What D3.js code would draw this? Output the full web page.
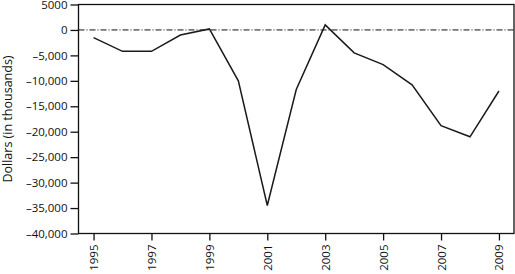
<!DOCTYPE html>
<html><head><meta charset="utf-8">
<script src="https://cdn.jsdelivr.net/npm/d3@7"></script>
<style>body{margin:0;background:#fff}svg{display:block}text{font-family:"Open Sans",sans-serif;fill:#111}</style>
</head><body>
<svg id="c" width="515" height="274"></svg>
<script>
const years = [1995,1996,1997,1998,1999,2000,2001,2002,2003,2004,2005,2006,2007,2008,2009];
const values = [-1500,-4200,-4200,-1000,200,-10000,-34500,-11700,1000,-4500,-6800,-10800,-18800,-21000,-12000];
const yTicks = [5000,0,-5000,-10000,-15000,-20000,-25000,-30000,-35000,-40000];
const xTicks = [1995,1997,1999,2001,2003,2005,2007,2009];
const yLabel = "Dollars (in thousands)";

const svg = d3.select("#c");
const L = 78.5, R = 514, T = 4.5, B = 233.5;
const x = d3.scaleLinear().domain([1994.48, 2009.52]).range([L, R]);
const y = d3.scaleLinear().domain([-40000, 5000]).range([B, T]);
const fmt = v => v === 5000 ? "5000" : v === 0 ? "0" : "\u2013" + d3.format(",")(Math.abs(v));

// frame
svg.append("rect").attr("x", L).attr("y", T).attr("width", R - L).attr("height", B - T)
  .attr("fill", "none").attr("stroke", "#111").attr("stroke-width", 1.3);

// zero line
svg.append("line").attr("x1", L).attr("x2", R).attr("y1", y(0)).attr("y2", y(0))
  .attr("stroke", "#111").attr("stroke-width", 1).attr("stroke-dasharray", "6,2,1,2");

const ya = svg.append("g").attr("transform", `translate(${L},0)`)
  .call(d3.axisLeft(y).tickValues(yTicks).tickFormat(fmt).tickSize(8).tickPadding(3));
ya.select(".domain").remove();
ya.selectAll("line").attr("stroke", "#111").attr("stroke-width", 1.3);
ya.selectAll("text").style("font-size", "11.5px").attr("fill", "#111");

const xa = svg.append("g").attr("transform", `translate(0,${B})`)
  .call(d3.axisBottom(x).tickValues(xTicks).tickFormat(d3.format("d")).tickSize(7).tickPadding(3));
xa.select(".domain").remove();
xa.selectAll("line").attr("stroke", "#111").attr("stroke-width", 1.3);
xa.selectAll("text").style("font-size", "11.5px").attr("fill", "#111")
  .attr("transform", "rotate(-90)").attr("text-anchor", "end")
  .attr("x", -11).attr("y", 0).attr("dy", "0.35em");

svg.append("text").attr("transform", `translate(12,${(T + B) / 2}) rotate(-90)`)
  .attr("text-anchor", "middle").style("font-size", "12.5px").text(yLabel);

svg.append("path").datum(years.map((d, i) => [d, values[i]]))
  .attr("fill", "none").attr("stroke", "#1a1a1a").attr("stroke-width", 1.5)
  .attr("d", d3.line().x(d => x(d[0])).y(d => y(d[1])));
</script>
</body></html>
